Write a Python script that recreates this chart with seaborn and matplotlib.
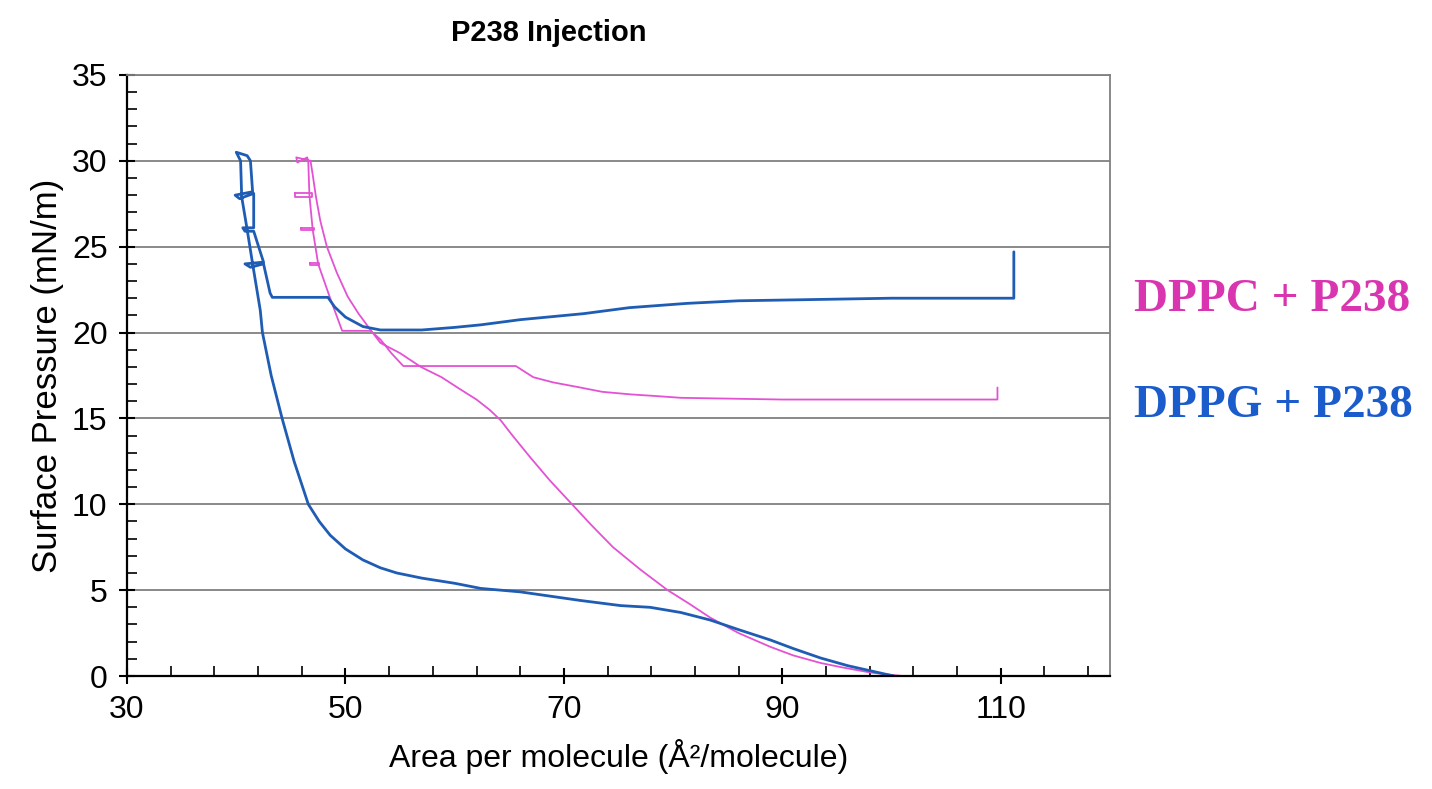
import matplotlib
matplotlib.use("Agg")
import matplotlib.pyplot as plt
from matplotlib.ticker import FixedLocator
import numpy as np
import pandas as pd
import seaborn as sns

# DPPC + P238 : compression, top hold, relaxation, expansion
dppc_x = [101.0, 98.1, 95.5, 93.5, 91.0, 88.9, 86.0, 83.4, 81.5, 79.5, 77.0, 74.5, 72.5, 70.6,
          68.7, 66.9, 65.3, 64.2, 63.2, 62.0, 60.5, 58.8, 56.9, 55.0, 53.2, 52.3, 51.2, 50.2,
          49.2, 48.3, 47.7, 47.3, 47.0, 46.8,
          45.5, 45.6, 46.5, 46.6, 46.7, 47.0, 47.5, 48.6, 49.7,
          52.3, 53.2, 54.2, 55.3, 65.6, 67.2, 69.0, 71.5, 73.5, 76.1, 78.5, 80.7, 90.0, 100.0,
          109.7, 109.7]
dppc_y = [0.0, 0.2, 0.5, 0.76, 1.2, 1.7, 2.5, 3.4, 4.2, 5.0, 6.2, 7.5, 8.8, 10.1,
          11.4, 12.75, 14.0, 14.9, 15.5, 16.1, 16.7, 17.4, 18.0, 18.8, 19.4, 20.15, 21.1, 22.1,
          23.5, 25.0, 26.5, 27.9, 29.2, 30.0,
          30.2, 29.9, 30.2, 29.9, 28.0, 26.0, 24.0, 22.0, 20.1,
          20.1, 19.6, 18.8, 18.05, 18.05, 17.4, 17.1, 16.8, 16.55, 16.4, 16.3, 16.2, 16.1, 16.1,
          16.1, 16.8]

# small pressure-hold marks on the DPPC trace (28, 26, 24 mN/m)
hold_x = [[45.4, 46.9, 46.9, 45.4, 45.4], [45.9, 47.1, 47.1, 45.9, 45.9], [46.8, 47.6, 47.6, 46.8, 46.8]]
hold_y = [[28.1, 28.1, 27.9, 27.9, 28.1], [26.1, 26.1, 25.95, 25.95, 26.1], [24.05, 24.05, 23.95, 23.95, 24.05]]

# DPPG + P238
dppg_x = [100.2, 98.1, 96.0, 93.5, 91.0, 88.9, 86.0, 83.4, 80.7, 77.9, 75.2, 71.5, 66.0, 62.4,
          60.0, 57.0, 54.7, 53.2, 51.6, 50.0, 48.6, 47.6, 46.6, 45.3, 44.2, 43.2, 42.4, 42.2,
          41.5, 41.0, 40.5, 40.4,
          40.0, 41.0, 41.3, 41.5, 39.9, 40.3, 41.6, 41.6, 40.6, 40.8, 41.6, 42.5, 40.8, 41.3, 42.5,
          43.1, 43.3, 48.4, 49.0, 50.0, 51.6, 53.2, 57.0, 60.0, 62.4, 66.0, 71.8, 76.0, 81.3,
          86.0, 90.8, 100.0, 111.2, 111.2]
dppg_y = [0.0, 0.3, 0.6, 1.05, 1.6, 2.1, 2.7, 3.26, 3.7, 4.0, 4.1, 4.4, 4.9, 5.1,
          5.4, 5.7, 6.0, 6.3, 6.76, 7.4, 8.2, 9.0, 10.0, 12.5, 15.0, 17.5, 20.0, 21.3,
          24.0, 26.0, 27.9, 30.0,
          30.5, 30.3, 30.0, 28.2, 28.0, 27.8, 28.1, 26.1, 26.1, 25.9, 25.9, 24.1, 24.0, 23.8, 24.0,
          22.3, 22.05, 22.05, 21.5, 20.9, 20.35, 20.15, 20.15, 20.3, 20.45, 20.75, 21.1, 21.45, 21.7,
          21.85, 21.9, 22.0, 22.0, 24.7]

series_names = ["DPPC + P238", "DPPG + P238"]
series_colors = ["#e452d4", "#1f5cb4"]
label_colors = ["#d935b0", "#1a5ccc"]

parts = [pd.DataFrame({"area": dppc_x, "pressure": dppc_y, "film": series_names[0], "seg": 0})]
for i, (hx, hy) in enumerate(zip(hold_x, hold_y)):
    parts.append(pd.DataFrame({"area": hx, "pressure": hy, "film": series_names[0], "seg": i + 1}))
parts.append(pd.DataFrame({"area": dppg_x, "pressure": dppg_y, "film": series_names[1], "seg": 0}))
df = pd.concat(parts, ignore_index=True)

sns.set_style("white")
plt.rcParams["font.family"] = ["Liberation Sans", "DejaVu Sans"]
plt.rcParams["text.color"] = "black"
plt.rcParams["axes.labelcolor"] = "black"
plt.rcParams["xtick.color"] = "black"
plt.rcParams["ytick.color"] = "black"

fig = plt.figure(figsize=(14.32, 7.89), dpi=100)
ax = fig.add_axes([0.0887, 0.1432, 0.6864, 0.7618])

for name, col, lw in zip(series_names, series_colors, [1.3, 2.0]):
    sub = df[df["film"] == name]
    sns.lineplot(data=sub, x="area", y="pressure", units="seg", sort=False, estimator=None,
                 color=col, linewidth=lw, ax=ax)

ax.set_xlim(30, 120)
ax.set_ylim(0, 35)
ax.xaxis.set_major_locator(FixedLocator([30, 50, 70, 90, 110]))
ax.xaxis.set_minor_locator(FixedLocator(np.arange(30, 121, 4)))
ax.yaxis.set_major_locator(FixedLocator(np.arange(0, 36, 5)))
ax.yaxis.set_minor_locator(FixedLocator(np.arange(0, 36, 1)))
ax.tick_params(which="major", direction="inout", length=12, width=1.5,
               labelsize=23, color="black", pad=8)
ax.tick_params(which="minor", direction="in", length=7, width=1.2, color="black")
ax.tick_params(axis="x", which="both", bottom=True, top=False)
ax.tick_params(axis="y", which="both", left=True, right=False)

ax.yaxis.grid(True, which="major", color="#808080", linewidth=1.3)
ax.xaxis.grid(False)
ax.set_axisbelow(True)
for s in ["left", "bottom"]:
    ax.spines[s].set_color("black")
    ax.spines[s].set_linewidth(1.6)
for s in ["top", "right"]:
    ax.spines[s].set_color("#808080")
    ax.spines[s].set_linewidth(1.3)

ax.set_xlabel("Area per molecule (Å²/molecule)", fontsize=23, labelpad=10)
ax.set_ylabel("Surface Pressure (mN/m)", fontsize=25, labelpad=6)
if ax.get_legend() is not None:
    ax.get_legend().remove()

fig.text(0.383, 0.958, "P238 Injection", ha="center", va="center",
         fontsize=21, fontweight="bold")

fig.text(0.792, 0.62, series_names[0], color=label_colors[0], fontsize=34,
         fontweight="bold", family="Liberation Serif", va="center", ha="left")
fig.text(0.792, 0.485, series_names[1], color=label_colors[1], fontsize=34,
         fontweight="bold", family="Liberation Serif", va="center", ha="left")

fig.savefig("out.png", dpi=100)
